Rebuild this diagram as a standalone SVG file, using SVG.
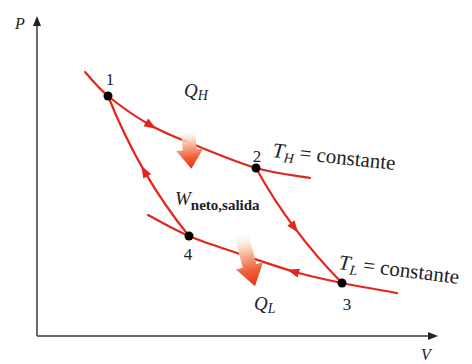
<svg xmlns="http://www.w3.org/2000/svg" width="472" height="364" viewBox="0 0 472 364">
<style>
.curve{fill:none;stroke:#e3261c;stroke-width:2.2;stroke-linecap:round}
.axis{fill:none;stroke:#3a3a3a;stroke-width:1.5}
.ah{fill:#e3261c}
.dot{fill:#000}
text{font-family:"Liberation Serif","Times New Roman",Times,Tinos,"DejaVu Serif","Noto Serif",FreeSerif,"Nimbus Roman",serif;fill:#222}
.num{font-size:17px;text-anchor:middle}
.it{font-style:italic}
.lbl{font-size:21px}
.sub{font-size:14px;font-style:italic}
.bsub{font-size:15px;font-weight:bold;font-style:normal}
.heat{fill:url(#hg)}
</style>
<defs>
<linearGradient id="hg" x1="0" y1="0" x2="0" y2="1">
<stop offset="0" stop-color="#ffffff" stop-opacity="0.3"/>
<stop offset="0.35" stop-color="#f7c2a4"/>
<stop offset="0.7" stop-color="#f0603a"/>
<stop offset="1" stop-color="#e8301c"/>
</linearGradient>
<path id="ah" d="M6,0 L-6,-4.5 L-6,4.5 Z"/>
</defs>

<g id="axes">
<line class="axis" x1="37" y1="336" x2="37" y2="24"/>
<path d="M37,16 L33,26 L41,26 Z" fill="#222"/>
<line class="axis" x1="37" y1="336" x2="430" y2="336"/>
<path d="M438,336 L428,332 L428,340 Z" fill="#222"/>
<text class="it" x="15" y="29" font-size="16">P</text>
<text class="it" x="421" y="360" font-size="16">V</text>
</g>

<g id="connectors">
<path id="isoTH" class="curve" d="M85,72 C88.8,76 97.2,87.2 108,96 C118.8,104.8 136.3,117.2 150,125 C163.7,132.8 172.3,135.8 190,143 C207.7,150.2 236,162.2 256,168 C276,173.8 301,176.3 310,178"/>
<path id="isoTL" class="curve" d="M148,215 C154.8,218.5 173.7,229.5 189,236 C204.3,242.5 222.3,248 240,254 C257.7,260 278,267.2 295,272 C312,276.8 325,279.5 342,283 C359,286.5 387.8,291.3 397,293"/>
<path id="ad23" class="curve" d="M256,168 Q290,230 342,283"/>
<path id="ad41" class="curve" d="M189,236 Q140,176 108,96"/>
<use href="#ah" class="ah" transform="translate(151,125.5) rotate(32)"/>
<use href="#ah" class="ah" transform="translate(294.5,227.75) rotate(53)"/>
<use href="#ah" class="ah" transform="translate(293,271.5) rotate(196)"/>
<use href="#ah" class="ah" transform="translate(144.25,171) rotate(-120)"/>
</g>

<g id="heat-in">
<path class="heat" transform="translate(188,130) rotate(-5)" d="M-7,0 L7,0 L7,20 L13.5,20 L0,39 L-13.5,20 L-7,20 Z"/>
<text class="it" x="184" y="97" font-size="19">Q<tspan class="sub" dy="3">H</tspan></text>
</g>

<g id="heat-out">
<path class="heat" transform="translate(241,234) rotate(-15)" d="M-7,0 L7,0 L7,33 L14,33 L0,54 L-14,33 L-7,33 Z"/>
<text class="it" x="254" y="310" font-size="19">Q<tspan class="sub" dy="3">L</tspan></text>
</g>

<g id="work">
<text x="175" y="205" class="it" font-size="19">W<tspan class="bsub" dy="5">neto,salida</tspan></text>
</g>

<g id="state1"><circle class="dot" cx="108" cy="96" r="4.5"/><text class="num" x="110" y="85">1</text></g>
<g id="state2"><circle class="dot" cx="256" cy="168" r="4.5"/><text class="num" x="257" y="162">2</text></g>
<g id="state3"><circle class="dot" cx="342" cy="283" r="4.5"/><text class="num" x="347" y="310">3</text></g>
<g id="state4"><circle class="dot" cx="189" cy="236" r="4.5"/><text class="num" x="188" y="260">4</text></g>

<g id="labelTH">
<text class="lbl" transform="translate(272,157) rotate(6)"><tspan class="it">T</tspan><tspan class="sub" dy="4">H</tspan><tspan dy="-4"> = constante</tspan></text>
</g>
<g id="labelTL">
<text class="lbl" transform="translate(338,269) rotate(7)"><tspan class="it">T</tspan><tspan class="sub" dy="4">L</tspan><tspan dy="-4"> = constante</tspan></text>
</g>
</svg>
